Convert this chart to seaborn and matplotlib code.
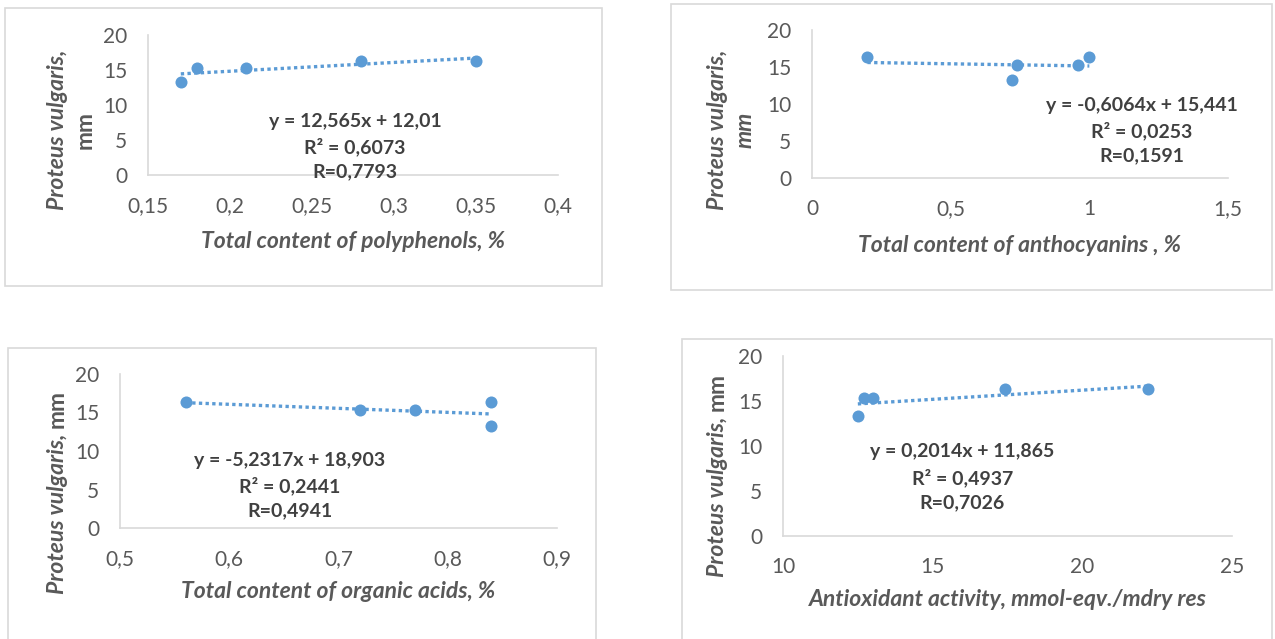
import seaborn as sns
import matplotlib.pyplot as plt
import matplotlib.patches as mpatches
from matplotlib.font_manager import FontProperties
import pandas as pd
import numpy as np

# inhibition zone of Proteus vulgaris, mm (same 5 samples in every panel)
zone = [13.3, 15.3, 15.3, 16.3, 16.3]

polyphenols = [0.17, 0.18, 0.21, 0.28, 0.35]
anthocyanins = [0.72, 0.74, 0.96, 0.20, 1.00]
organic_acids = [0.84, 0.72, 0.77, 0.56, 0.84]
antioxidant = [12.5, 12.7, 13.0, 17.4, 22.2]

equations = [
    "y = 12,565x + 12,01\nR² = 0,6073\nR=0,7793",
    "y = -0,6064x + 15,441\nR² = 0,0253\nR=0,1591",
    "y = -5,2317x + 18,903\nR² = 0,2441\nR=0,4941",
    "y = 0,2014x + 11,865\nR² = 0,4937\nR=0,7026",
]
xlabels = [
    "Total content of polyphenols, %",
    "Total content of anthocyanins , %",
    "Total content of organic acids, %",
    "Antioxidant activity, mmol-eqv./mdry res",
]
xticks = [
    [0.15, 0.2, 0.25, 0.3, 0.35, 0.4],
    [0, 0.5, 1, 1.5],
    [0.5, 0.6, 0.7, 0.8, 0.9],
    [10, 15, 20, 25],
]
yticks = [0, 5, 10, 15, 20]

sns.set_style("white")
plt.rcParams["font.family"] = ["Lato", "DejaVu Sans"]

W, H = 1275, 639
fig = plt.figure(figsize=(W / 100, H / 100), dpi=100)

def fx(x):
    return x / W

def fy(y):
    return 1 - y / H

# chart borders (pixels: left, top, right, bottom)
boxes = [(5, 8, 602, 286), (671, 4, 1272, 290), (8, 348, 596, 645), (682, 339, 1272, 645)]
for l, t, r, b in boxes:
    fig.patches.append(mpatches.Rectangle((fx(l), fy(b)), fx(r - l), (b - t) / H,
                                          transform=fig.transFigure, fill=False,
                                          edgecolor="#D9D9D9", linewidth=1.2))

# axes rectangles in pixels: x0, x1, y_top(20), y_bottom(0)
axes_px = [(148, 558, 35, 175), (812, 1228, 30, 178), (120, 557, 374, 528), (783, 1232, 356, 536)]
xdata = [polyphenols, anthocyanins, organic_acids, antioxidant]

eq_pos = [(0.505, 0.445), (0.793, 0.55), (0.389, 0.495), (0.399, 0.515)]
xlabel_y = [242, 245, 592, 600]
ylab_center = [(58, 130), (718, 130), (57, 492), (717, 475)]

blue = "#5B9BD5"
grey = "#595959"
fp_bi = FontProperties(family="Lato", style="italic", weight="bold", size=16.5)
fp_b = FontProperties(family="Lato", style="normal", weight="bold", size=16.5)

one_line = []
for i in range(4):
    x0, x1, yt, yb = axes_px[i]
    ax = fig.add_axes([fx(x0), fy(yb), (x1 - x0) / W, (yb - yt) / H])
    df = pd.DataFrame({"x": xdata[i], "y": zone})
    sns.regplot(data=df, x="x", y="y", ax=ax, ci=None, color=blue,
                scatter_kws={"s": 75, "alpha": 1, "linewidths": 0},
                line_kws={"linestyle": (0, (1, 1)), "linewidth": 2.4})
    ax.set_xlim(xticks[i][0], xticks[i][-1])
    ax.set_ylim(0, 20)
    ax.set_xticks(xticks[i])
    ax.set_xticklabels([f"{v:g}".replace(".", ",") for v in xticks[i]])
    ax.set_yticks(yticks)
    ax.set_xlabel("")
    ax.set_ylabel("")
    ax.tick_params(length=0, labelsize=15, labelcolor=grey, pad=15)
    ax.tick_params(axis="y", pad=15)
    for s in ["top", "right"]:
        ax.spines[s].set_visible(False)
    for s in ["left", "bottom"]:
        ax.spines[s].set_color("#D9D9D9")
        ax.spines[s].set_linewidth(1.2)
    ax.patch.set_alpha(0)
    ax.text(eq_pos[i][0], eq_pos[i][1], equations[i], transform=ax.transAxes,
            ha="center", va="top", fontsize=14, fontweight="bold",
            color="#404040", linespacing=1.5)
    fig.text(fx((x0 + x1) / 2), fy(xlabel_y[i]), xlabels[i], ha="center", va="center",
             fontproperties=fp_bi, color=grey)
    cx, cy = ylab_center[i]
    if i < 2:
        fig.text(fx(cx), fy(cy), "Proteus vulgaris,", rotation=90, ha="center", va="center",
                 fontproperties=fp_bi, color=grey)
        fig.text(fx(cx + 27), fy(cy), "mm", rotation=90, ha="center", va="center",
                 fontproperties=fp_bi if i == 1 else fp_b, color=grey)
    else:
        t1 = fig.text(fx(cx), fy(cy), "Proteus vulgaris, ", rotation=90, ha="center",
                      va="bottom", fontproperties=fp_bi, color=grey)
        t2 = fig.text(fx(cx), fy(cy), "mm", rotation=90, ha="center", va="bottom",
                      fontproperties=fp_b, color=grey)
        one_line.append((t1, t2, cy))

# put "mm" right after the italic part of the single-line y labels
fig.canvas.draw()
r = fig.canvas.get_renderer()
for t1, t2, cy in one_line:
    h1 = t1.get_window_extent(r).height
    h2 = t2.get_window_extent(r).height
    start = cy + (h1 + h2) / 2
    t1.set_position((t1.get_position()[0], fy(start)))
    t2.set_position((t2.get_position()[0], fy(start - h1)))

fig.savefig("out.png", dpi=100)
